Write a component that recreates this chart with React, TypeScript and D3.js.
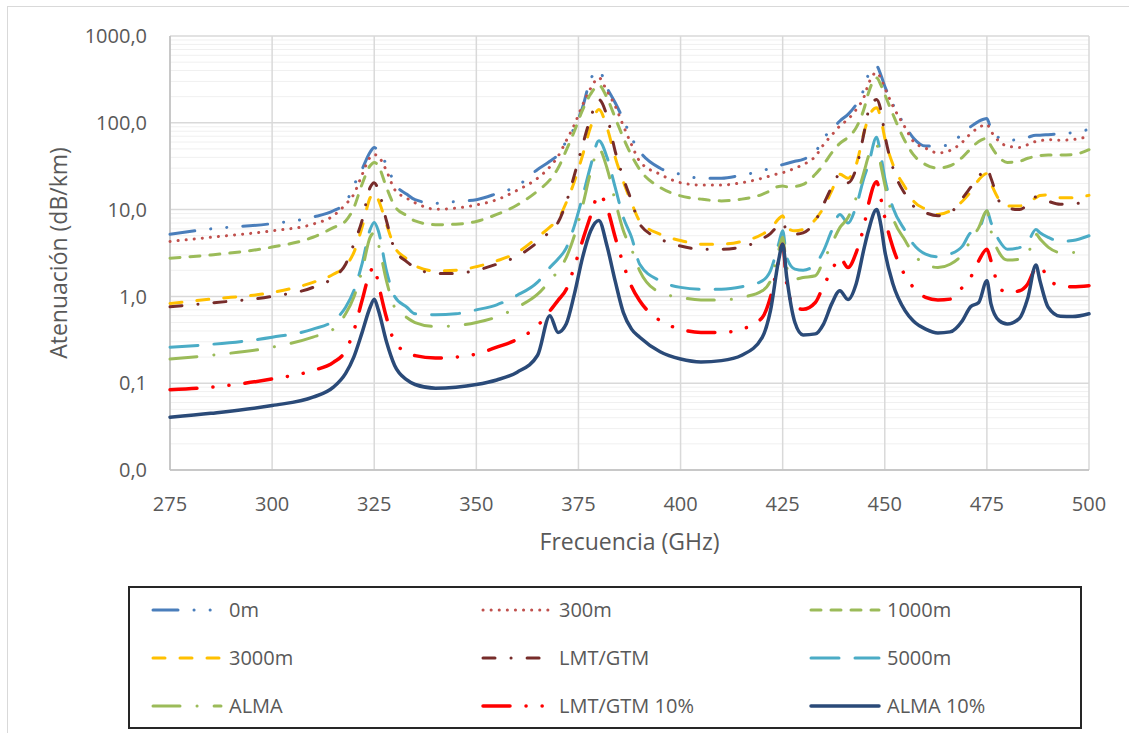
import React, { useEffect, useRef } from 'react';
import * as d3 from 'd3';

// Frequency samples (GHz) shared by all series
const freqs = [
  275, 285, 300, 310, 315, 318, 320, 322, 324, 325, 326, 328, 330, 333, 335, 340, 345, 350, 355, 360,
  365, 368, 370, 372, 374, 376, 378, 380, 382, 384, 386, 388, 390, 395, 400, 405, 410, 415, 420, 422,
  424, 425, 426, 428, 430, 433, 435, 437, 439, 441, 443, 445, 446, 448, 449, 450, 452, 455, 457, 460,
  463, 466, 469, 471, 473, 475, 476, 478, 480, 483, 485, 487, 488, 490, 493, 496, 500,
];

// Attenuation (dB/km)
const att0m = [
  5.2, 6.0, 6.9, 8.2, 9.7, 12, 19, 29, 46, 52, 47, 33, 20, 15, 13, 11.8, 12.4, 13, 15.3, 18.7,
  29, 36, 43, 61, 88, 150, 320, 400, 252, 170, 109, 67, 47, 30, 25.5, 23, 23, 25, 28, 30,
  32, 33, 34, 36, 38, 46, 67, 82, 105, 125, 163, 252, 360, 450, 360, 264, 163, 92, 67, 54,
  54, 56, 76, 90, 104, 112, 84, 67, 63, 64, 68, 72, 72, 73, 75, 77, 84,
];
const att300m = [
  4.3, 4.8, 5.7, 6.8, 8.5, 11.5, 15, 25, 40, 43, 41, 28, 17, 13.5, 12, 10.1, 10.4, 11.3, 13, 16.7,
  23, 31, 41, 62, 95, 160, 250, 330, 231, 156, 92, 56, 36, 25.5, 20.4, 19.2, 19.2, 20.4, 23, 24.5,
  26, 26.6, 27.5, 30, 33, 41, 56, 72, 92, 110, 142, 203, 280, 380, 329, 252, 156, 88, 61, 51,
  45, 48, 60, 75, 88, 96, 80, 61, 54, 52, 56, 61, 62, 64, 63, 64, 70,
];
const att1000m = [
  2.76, 3.0, 3.7, 4.8, 6.2, 7.4, 10.5, 19.5, 32, 35, 32, 18, 11, 8.5, 7.4, 6.7, 6.8, 7.3, 8.8, 11.3,
  16.4, 22, 30, 48, 80, 140, 215, 271, 194, 114, 67, 42, 29, 18, 14.4, 13.2, 12.6, 13.2, 15, 16.5,
  18.5, 18.7, 18.3, 18.5, 19.5, 25.5, 33, 45, 58, 68, 88, 149, 221, 329, 276, 212, 125, 61, 43, 33,
  30, 32, 40, 50, 61, 66, 54, 40, 35, 36, 39, 41, 42, 42.5, 42.5, 43, 49,
];
const att3000m = [
  0.83, 0.93, 1.11, 1.45, 1.8, 2.25, 3.2, 6.2, 13.7, 15.7, 13, 6.8, 3.7, 2.7, 2.25, 1.97, 2.0, 2.2, 2.57, 3.2,
  4.8, 6.3, 7.7, 12, 21, 42, 90, 142, 88, 40, 21, 12, 7.4, 5.2, 4.4, 4.0, 4.0, 4.3, 5.2, 6.0,
  7.8, 8.5, 6.2, 5.7, 5.9, 7.7, 10.5, 16.4, 25.5, 23, 33, 80, 114, 149, 114, 67, 33, 18, 12.6, 10.1,
  8.8, 9.7, 12.5, 16, 22, 26, 20, 13, 11, 11, 12, 13.7, 14.5, 14.8, 13.7, 13.7, 14.6,
];
const attLmt = [
  0.76, 0.84, 1.0, 1.27, 1.65, 2.35, 4.0, 7.4, 18, 20.4, 17, 7.4, 3.5, 2.5, 2.15, 1.84, 1.84, 2.0, 2.35, 2.9,
  4.2, 5.6, 7.1, 12, 25, 55, 115, 185, 119, 47, 23, 12.6, 6.8, 4.6, 3.8, 3.5, 3.5, 3.7, 4.6, 5.3,
  6.6, 7.1, 5.7, 5.2, 5.4, 7.4, 11.5, 18, 25.5, 20.4, 30, 80, 136, 185, 142, 73, 30, 15, 11, 9.2,
  8.5, 9.2, 13.5, 18, 24, 30, 23, 12.5, 10.5, 10, 11.5, 14, 13.6, 12.5, 11.5, 11.7, 12,
];
const att5000m = [
  0.26, 0.28, 0.338, 0.42, 0.525, 0.75, 1.16, 2.35, 5.9, 7.1, 5.7, 1.97, 1.0, 0.75, 0.63, 0.615, 0.63, 0.7, 0.8, 1.03,
  1.46, 2.15, 2.7, 3.6, 6.5, 14, 32, 62, 40, 18, 8.1, 4.8, 2.35, 1.51, 1.27, 1.21, 1.21, 1.29, 1.51, 1.97,
  4.0, 5.7, 2.8, 2.06, 2.0, 2.35, 3.35, 5.7, 8.8, 7.0, 11, 24, 33, 68, 43, 23, 10.5, 5.7, 4.0, 3.07,
  2.86, 3.07, 3.8, 5.4, 5.9, 9.7, 7.1, 4.4, 3.5, 3.65, 4.2, 5.9, 5.4, 4.8, 4.3, 4.4, 5.0,
];
const attAlma = [
  0.19, 0.21, 0.26, 0.34, 0.42, 0.63, 0.98, 1.97, 4.8, 5.4, 4.0, 1.51, 0.75, 0.57, 0.5, 0.45, 0.46, 0.5, 0.58, 0.75,
  1.06, 1.51, 1.97, 2.8, 5.0, 11, 27, 50, 30, 12.6, 5.7, 3.5, 1.97, 1.11, 0.975, 0.91, 0.91, 0.975, 1.16, 1.51,
  3.35, 4.8, 2.15, 1.58, 1.65, 1.73, 2.57, 4.0, 6.2, 8.1, 13.7, 28, 41, 56, 33, 19.5, 8.1, 4.4, 3.07, 2.35,
  2.15, 2.35, 3.07, 4.4, 6.2, 9.7, 5.7, 3.2, 2.62, 2.69, 3.07, 5.2, 4.6, 3.7, 3.2, 3.2, 3.5,
];
const attLmt10 = [
  0.084, 0.09, 0.112, 0.14, 0.174, 0.237, 0.4, 0.89, 1.9, 2.2, 1.4, 0.57, 0.3, 0.227, 0.208, 0.195, 0.2, 0.217, 0.26, 0.32,
  0.46, 0.68, 0.9, 1.2, 2.2, 4.4, 8.5, 15, 10.5, 4.8, 2.35, 1.3, 0.89, 0.525, 0.42, 0.385, 0.385, 0.42, 0.57, 0.975,
  2.57, 4.0, 1.39, 0.75, 0.71, 0.85, 1.33, 1.97, 2.8, 2.15, 3.2, 6.8, 11.5, 21, 13.7, 8.1, 3.65, 1.73, 1.27, 0.975,
  0.91, 0.93, 1.27, 1.65, 2.57, 3.5, 2.57, 1.27, 1.11, 1.16, 1.39, 2.15, 2.25, 1.58, 1.33, 1.29, 1.33,
];
const attAlma10 = [
  0.0406, 0.045, 0.0553, 0.069, 0.09, 0.13, 0.2, 0.38, 0.75, 0.93, 0.7, 0.3, 0.16, 0.109, 0.0966, 0.0877, 0.09, 0.0966, 0.109, 0.134,
  0.21, 0.6, 0.385, 0.48, 1.06, 2.8, 5.7, 7.5, 3.8, 1.5, 0.65, 0.42, 0.338, 0.23, 0.19, 0.176, 0.182, 0.21, 0.338, 0.68,
  2.6, 4.0, 1.65, 0.5, 0.36, 0.37, 0.48, 0.82, 1.16, 0.92, 1.4, 3.7, 5.7, 10, 6.8, 3.35, 1.39, 0.68, 0.52, 0.42,
  0.38, 0.39, 0.525, 0.76, 0.85, 1.51, 0.82, 0.525, 0.48, 0.56, 0.95, 2.3, 1.51, 0.75, 0.59, 0.585, 0.63,
];

const xTicks = [275, 300, 325, 350, 375, 400, 425, 450, 475, 500];
const yTicks = [0.01, 0.1, 1, 10, 100, 1000];
const yTickLabels = ['0,0', '0,1', '1,0', '10,0', '100,0', '1000,0'];

const series = [
  { name: '0m', values: att0m, color: '#4a7ebb', dash: '25 16 0.1 16 0.1 16', width: 3 },
  { name: '300m', values: att300m, color: '#c0504d', dash: '0.1 8', width: 3 },
  { name: '1000m', values: att1000m, color: '#9bbb59', dash: '10 10', width: 3 },
  { name: '3000m', values: att3000m, color: '#ffc000', dash: '12 15', width: 3 },
  { name: 'LMT/GTM', values: attLmt, color: '#772c2a', dash: '12 16 0.1 16', width: 3 },
  { name: '5000m', values: att5000m, color: '#4bacc6', dash: '28 16', width: 3 },
  { name: 'ALMA', values: attAlma, color: '#9bbb59', dash: '27 17 0.1 17', width: 3 },
  { name: 'LMT/GTM 10%', values: attLmt10, color: '#ff0000', dash: '27 16 0.1 16 0.1 16', width: 3.5 },
  { name: 'ALMA 10%', values: attAlma10, color: '#2a4a78', dash: null, width: 3.5 },
];

const FONT = '"Open Sans", "DejaVu Sans", sans-serif';
const TEXT = '#595959';

function AttenuationChart() {
  const svgRef = useRef<SVGSVGElement>(null);

  useEffect(() => {
    // keep the page exactly one viewport big, no scrollbars
    document.body.style.margin = '0';
    document.documentElement.style.overflow = 'hidden';

    const width = 1129;
    const height = 733;
    const margin = { top: 36, right: 40, bottom: 263, left: 170 };
    const innerWidth = width - margin.left - margin.right;
    const innerHeight = height - margin.top - margin.bottom;

    const svg = d3.select(svgRef.current).attr('width', width).attr('height', height);
    svg.selectAll('*').remove();

    // chart area border
    svg.append('rect')
      .attr('x', 7.5).attr('y', 6.5)
      .attr('width', 1140).attr('height', 760)
      .attr('fill', 'white').attr('stroke', '#d9d9d9').attr('stroke-width', 1);

    const g = svg.append('g').attr('transform', `translate(${margin.left},${margin.top})`);

    const x = d3.scaleLinear().domain([275, 500]).range([0, innerWidth]);
    const y = d3.scaleLog().domain([0.01, 1000]).range([innerHeight, 0]);

    // minor horizontal grid
    const minor: number[] = [];
    [0.01, 0.1, 1, 10, 100].forEach(d => { for (let k = 2; k <= 9; k++) minor.push(d * k); });
    g.append('g').selectAll('line').data(minor).enter().append('line')
      .attr('x1', 0).attr('x2', innerWidth)
      .attr('y1', d => y(d)).attr('y2', d => y(d))
      .attr('stroke', '#f0f0f0').attr('stroke-width', 1);

    // major grid
    g.append('g').selectAll('line').data(yTicks).enter().append('line')
      .attr('x1', 0).attr('x2', innerWidth)
      .attr('y1', d => y(d)).attr('y2', d => y(d))
      .attr('stroke', '#d9d9d9').attr('stroke-width', 1.5);
    g.append('g').selectAll('line').data(xTicks).enter().append('line')
      .attr('x1', d => x(d)).attr('x2', d => x(d))
      .attr('y1', 0).attr('y2', innerHeight)
      .attr('stroke', '#d9d9d9').attr('stroke-width', 1.5);

    // axis lines
    g.append('line').attr('x1', 0).attr('x2', 0).attr('y1', 0).attr('y2', innerHeight)
      .attr('stroke', '#bfbfbf').attr('stroke-width', 1.5);
    g.append('line').attr('x1', 0).attr('x2', innerWidth).attr('y1', innerHeight).attr('y2', innerHeight)
      .attr('stroke', '#bfbfbf').attr('stroke-width', 1.5);

    // tick labels
    g.append('g').selectAll('text').data(xTicks).enter().append('text')
      .attr('x', d => x(d)).attr('y', innerHeight + 41)
      .attr('text-anchor', 'middle')
      .attr('font-family', FONT).attr('font-size', 20).attr('fill', TEXT)
      .text(d => String(d));
    g.append('g').selectAll('text').data(yTicks).enter().append('text')
      .attr('x', -23).attr('y', d => y(d)).attr('dy', '0.36em')
      .attr('text-anchor', 'end')
      .attr('font-family', FONT).attr('font-size', 20).attr('fill', TEXT)
      .text((d, i) => yTickLabels[i]);

    // axis titles
    g.append('text')
      .attr('x', innerWidth / 2).attr('y', innerHeight + 80)
      .attr('text-anchor', 'middle')
      .attr('font-family', FONT).attr('font-size', 23).attr('fill', TEXT)
      .text('Frecuencia (GHz)');
    g.append('text')
      .attr('transform', 'rotate(-90)')
      .attr('x', -innerHeight / 2).attr('y', -103)
      .attr('text-anchor', 'middle')
      .attr('font-family', FONT).attr('font-size', 23).attr('fill', TEXT)
      .text('Atenuación (dB/km)');

    // lines
    g.append('clipPath').attr('id', 'plot-clip')
      .append('rect').attr('x', -2).attr('y', -2).attr('width', innerWidth + 4).attr('height', innerHeight + 4);

    const line = d3.line<number>()
      .x((d, i) => x(freqs[i]))
      .y(d => y(d))
      .curve(d3.curveMonotoneX);

    const lines = g.append('g').attr('clip-path', 'url(#plot-clip)');
    series.forEach(s => {
      lines.append('path')
        .attr('d', line(s.values))
        .attr('fill', 'none')
        .attr('stroke', s.color)
        .attr('stroke-width', s.width)
        .attr('stroke-linecap', 'round')
        .attr('stroke-linejoin', 'round')
        .attr('stroke-dasharray', s.dash);
    });

    // legend
    const legend = svg.append('g');
    legend.append('rect')
      .attr('x', 129).attr('y', 587)
      .attr('width', 952).attr('height', 141)
      .attr('fill', 'white').attr('stroke', '#262626').attr('stroke-width', 2);

    const colX = [153, 483, 811];
    const rowY = [610, 658, 706];
    series.forEach((s, i) => {
      const cx = colX[i % 3];
      const cy = rowY[Math.floor(i / 3)];
      legend.append('line')
        .attr('x1', cx).attr('x2', cx + 68)
        .attr('y1', cy).attr('y2', cy)
        .attr('stroke', s.color)
        .attr('stroke-width', s.width)
        .attr('stroke-linecap', 'round')
        .attr('stroke-dasharray', s.dash);
      legend.append('text')
        .attr('x', cx + 76).attr('y', cy).attr('dy', '0.36em')
        .attr('font-family', FONT).attr('font-size', 20).attr('fill', TEXT)
        .text(s.name);
    });
  }, []);

  return <svg ref={svgRef} style={{ display: 'block' }}></svg>;
}

export default function App() {
  return <AttenuationChart />;
}
